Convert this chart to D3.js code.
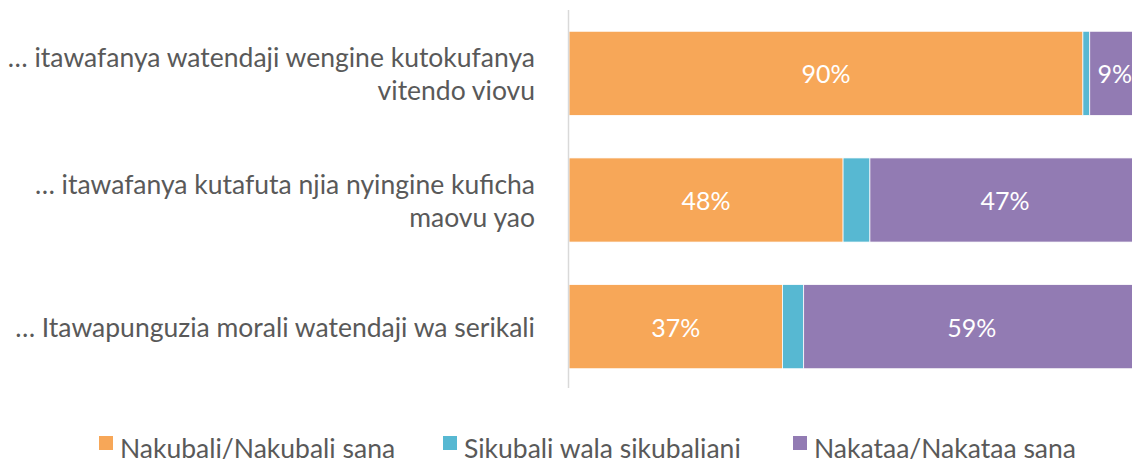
<!doctype html>
<html>
<head>
<meta charset="utf-8">
<script src="https://cdn.jsdelivr.net/npm/d3@7"></script>
<style>
    body { margin: 0; background: #fff; }
    text { font-family: Lato, "Open Sans", sans-serif; }
</style>
</head>
<body>
<svg width="1132" height="463"></svg>
<script>
    // data
    var categories = [
        ["… itawafanya watendaji wengine kutokufanya", "vitendo viovu"],
        ["… itawafanya kutafuta njia nyingine kuficha", "maovu yao"],
        ["… Itawapunguzia morali watendaji wa serikali"]
    ];
    var seriesNames = ["Nakubali/Nakubali sana", "Sikubali wala sikubaliani", "Nakataa/Nakataa sana"];
    var agree    = [90.0, 48.0, 37.4];
    var neutral  = [1.2, 4.7, 3.7];
    var disagree = [8.8, 47.3, 58.9];
    var colors = ["#F7A758", "#57B8D2", "#927BB3"];

    var svg = d3.select("svg");
    var fontSize = 26.5;
    var valueSize = 25;

    var rows = categories.map(function(c, i) {
        return { id: i, label: c, values: [agree[i], neutral[i], disagree[i]] };
    });

    var y = d3.scaleBand().domain(rows.map(function(d) { return d.id; }))
        .range([10, 390]).paddingInner(0.336).paddingOuter(0.168);
    var x = d3.scaleLinear().domain([0, 100]).range([569, 1140]);

    // stacked segments
    rows.forEach(function(r) {
        var start = 0;
        var segs = r.values.map(function(v, k) {
            var s = { k: k, x0: start, x1: start + v, v: v };
            start += v;
            return s;
        });
        var g = svg.append("g");
        g.selectAll("rect").data(segs).enter().append("rect")
            .attr("x", function(d) { return x(d.x0); })
            .attr("y", y(r.id))
            .attr("width", function(d) { return x(d.x1) - x(d.x0); })
            .attr("height", y.bandwidth())
            .attr("fill", function(d) { return colors[d.k]; })
            .attr("stroke", "#fff")
            .attr("stroke-width", 0.75);

        g.selectAll("text").data(segs.filter(function(d) { return d.v >= 5; }))
            .enter().append("text")
            .attr("x", function(d) { return (x(d.x0) + x(d.x1)) / 2; })
            .attr("y", y(r.id) + y.bandwidth() / 2 + 10)
            .attr("text-anchor", "middle")
            .attr("fill", "#fff")
            .attr("font-size", valueSize + "px")
            .text(function(d) { return Math.round(d.v) + "%"; });

        // category label
        var lines = r.label;
        var mid = y(r.id) + y.bandwidth() / 2 + 10;
        var lt = svg.append("text")
            .attr("text-anchor", "end")
            .attr("fill", "#595959")
            .attr("font-size", fontSize + "px");
        lines.forEach(function(l, j) {
            lt.append("tspan")
              .attr("x", 535)
              .attr("y", mid + (j - (lines.length - 1) / 2) * 33)
              .text(l);
        });
    });

    // vertical axis line
    svg.append("line")
        .attr("x1", 568.5).attr("x2", 568.5)
        .attr("y1", y.range()[0]).attr("y2", y.range()[1] - 2)
        .attr("stroke", "#d9d9d9")
        .attr("stroke-width", 1.5);

    // legend
    var legendX = [99, 443, 793];
    var lg = svg.append("g");
    seriesNames.forEach(function(n, i) {
        lg.append("rect")
          .attr("x", legendX[i]).attr("y", 436)
          .attr("width", 14).attr("height", 14)
          .attr("fill", colors[i]);
        lg.append("text")
          .attr("x", legendX[i] + 21).attr("y", 458)
          .attr("fill", "#595959")
          .attr("font-size", fontSize + "px")
          .text(n);
    });
</script>
</body>
</html>
